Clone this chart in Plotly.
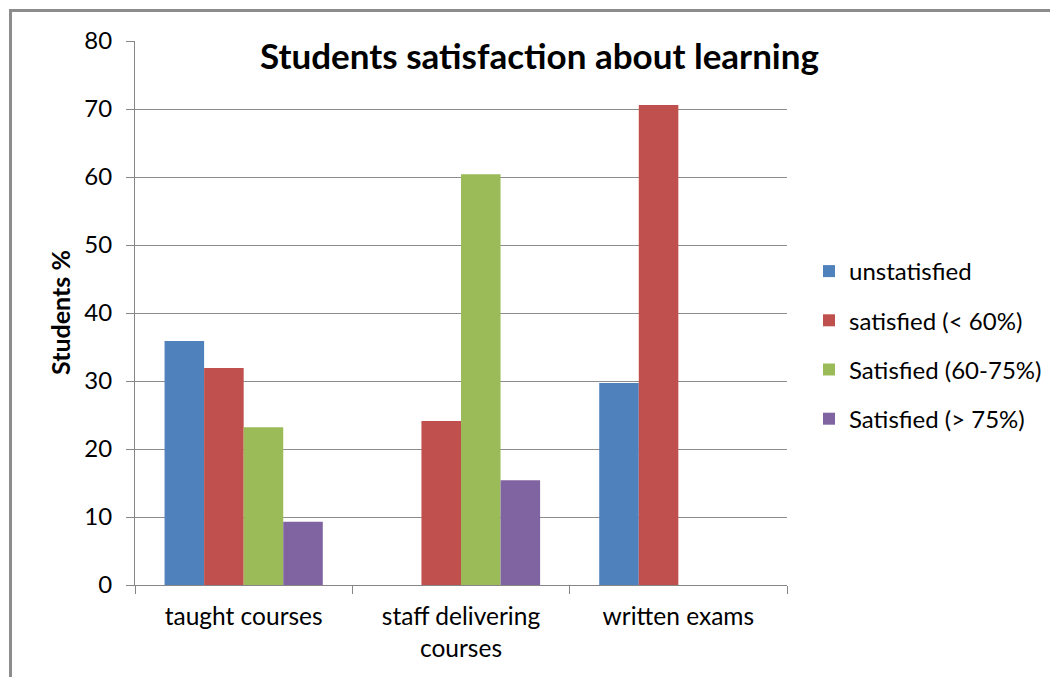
import plotly.graph_objects as go

categories = ["taught courses", "staff delivering<br>courses", "written exams"]
series_names = ["unstatisfied", "satisfied (< 60%)", "Satisfied (60-75%)", "Satisfied (> 75%)"]
unstatisfied = [35.9, 0, 29.7]
satisfied_lt60 = [31.9, 24.1, 70.6]
satisfied_60_75 = [23.2, 60.4, 0]
satisfied_gt75 = [9.3, 15.4, 0]
y_ticks = [0, 10, 20, 30, 40, 50, 60, 70, 80]

colors = ["#4F81BD", "#C0504D", "#9BBB59", "#8064A2"]
values = [unstatisfied, satisfied_lt60, satisfied_60_75, satisfied_gt75]

FONT = "Lato, Calibri, sans-serif"

# page has an 8px body margin; figure coords = page coords - 8
W, H = 1050, 669
L, R, T, B = 127, 779, 33, 577
PW, PH = R - L, B - T

fig = go.Figure()
for i, (name, vals, col) in enumerate(zip(series_names, values, colors)):
    fig.add_trace(go.Bar(
        x=categories, y=vals, name=name, marker_color=col,
        marker_line_width=0, legendgroup=f"g{i}",
    ))

fig.update_layout(
    width=W, height=H,
    margin=dict(l=L, r=W - R, t=T, b=H - B, pad=0, autoexpand=False),
    paper_bgcolor="white", plot_bgcolor="white",
    barmode="group", bargap=0.272, bargroupgap=0,
    font=dict(family=FONT, color="#000000"),
    title=dict(text="<b>Students satisfaction about learning</b>",
               x=531.5 / W, xanchor="center", y=1 - 49 / H, yanchor="middle",
               yref="container", xref="container",
               font=dict(size=35, family=FONT, color="#000000")),
    legend=dict(x=(801 - L) / PW, xanchor="left", y=(B - 241) / PH, yanchor="top",
                font=dict(size=24, family=FONT, color="#000000"),
                tracegroupgap=15, bgcolor="rgba(0,0,0,0)"),
    showlegend=True,
)

fig.update_xaxes(
    showline=True, linecolor="#868686", linewidth=1,
    ticks="outside", ticklen=8, tickcolor="#868686", tickson="boundaries",
    tickfont=dict(size=24.5, family=FONT, color="#000000"),
    ticklabelstandoff=10,
    showgrid=False,
)
fig.update_yaxes(
    range=[0, 80], tickvals=y_ticks,
    showline=True, linecolor="#868686", linewidth=1,
    ticks="outside", ticklen=8, tickcolor="#868686",
    showgrid=True, gridcolor="#8C8C8C", gridwidth=1,
    tickfont=dict(size=24, family=FONT, color="#000000"),
    ticklabelstandoff=9,
    zeroline=False,
)

fig.add_annotation(text="<b>Students %</b>", xref="paper", yref="paper",
                   x=(52 - L) / PW, y=0.5, xanchor="center", yanchor="middle",
                   textangle=-90, showarrow=False,
                   font=dict(size=25, family=FONT, color="#000000"))

# chart border (Excel chart area frame)
fig.add_shape(type="rect", xref="paper", yref="paper",
              x0=(2.5 - L) / PW, x1=1.6, y0=-0.5, y1=(B - 2.5) / PH,
              line=dict(color="#8C8C8C", width=3), fillcolor="rgba(0,0,0,0)", layer="below")

fig.write_html("out.html")
